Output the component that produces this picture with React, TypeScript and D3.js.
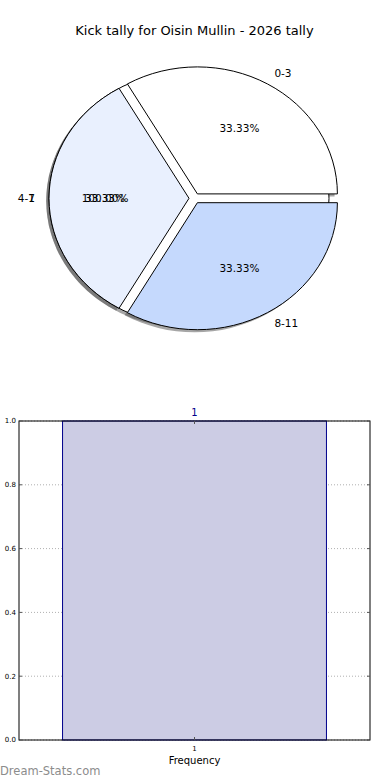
import React from 'react';
import * as d3 from 'd3';

// pie data (two pies drawn on top of each other in the original)
const sliceLabels = ['0-3', '4-7', '8-11'];
const sliceValues = [1, 1, 1];
const sliceColors = ['#ffffff', '#e9f0fe', '#c5d9fd'];
const underLabels = ['1'];
const underValues = [1];

// frequency bar data
const barCategories = [1];
const barValues = [1];
const yTicks = [0, 0.2, 0.4, 0.6, 0.8, 1.0];

const W = 390;
const H = 780;
const FONT = '"DejaVu Sans", Verdana, sans-serif';

// pie geometry (matplotlib axes were not equal, so the pie is an ellipse)
const CX = 194.6;
const CY = 198.3;
const RX = 140;
const RY = 127;
const EXPLODE = 0.04;

type Wedge = { label: string; value: number; a0: number; a1: number; color: string; pct: string; full: boolean };

function buildWedges(labels: string[], values: number[], colors: string[]): Wedge[] {
  // matplotlib: counter-clockwise from +x; d3 angle = pi/2 - theta
  const pie = d3.pie<number>().sort(null).startAngle(Math.PI / 2).endAngle(Math.PI / 2 - 2 * Math.PI);
  const total = d3.sum(values);
  return pie(values).map((p, i) => ({
    label: labels[i],
    value: values[i],
    a0: p.startAngle,
    a1: p.endAngle,
    color: colors[i % colors.length],
    pct: `${((values[i] / total) * 100).toFixed(2)}%`,
    full: values[i] === total,
  }));
}

const unitArc = d3.arc<any>().innerRadius(0).outerRadius(1);

function wedgePath(w: Wedge) {
  return w.full ? 'M1,0A1,1 0 1,1 -1,0A1,1 0 1,1 1,0Z' : (unitArc({ startAngle: w.a1, endAngle: w.a0 }) as string);
}

function offset(w: Wedge) {
  const mid = (w.a0 + w.a1) / 2; // d3 angle
  return [EXPLODE * Math.sin(mid) * RX, -EXPLODE * Math.cos(mid) * RY];
}

function Shadows({ wedges }: { wedges: Wedge[] }) {
  return (
    <g>
      {wedges.map((w, i) => {
        const [ox, oy] = offset(w);
        return (
          <path
            key={i}
            d={wedgePath(w)}
            transform={`translate(${CX + ox - 0.02 * RX},${CY + oy + 0.02 * RY}) scale(${RX},${RY})`}
            fill="#4d4d4d"
            fillOpacity={0.5}
          />
        );
      })}
    </g>
  );
}

function Wedges({ wedges }: { wedges: Wedge[] }) {
  return (
    <g>
      {wedges.map((w, i) => {
        const [ox, oy] = offset(w);
        return (
          <path
            key={i}
            d={wedgePath(w)}
            transform={`translate(${CX + ox},${CY + oy}) scale(${RX},${RY})`}
            fill={w.color}
            stroke="#000"
            strokeWidth={1}
            vectorEffect="non-scaling-stroke"
            strokeLinejoin="round"
          />
        );
      })}
    </g>
  );
}

function PieLabels({ wedges }: { wedges: Wedge[] }) {
  return (
    <g fontFamily={FONT} fontSize={10.5} fill="#000">
      {wedges.map((w, i) => {
        const mid = (w.a0 + w.a1) / 2;
        const sx = Math.sin(mid);
        const sy = -Math.cos(mid);
        const lx = CX + (EXPLODE + 1.1) * sx * RX;
        const ly = CY + (EXPLODE + 1.1) * sy * RY;
        const px = CX + (EXPLODE + 0.6) * sx * RX;
        const py = CY + (EXPLODE + 0.6) * sy * RY;
        return (
          <g key={i}>
            <text x={lx} y={ly} dy="0.35em" textAnchor={sx > 1e-9 ? 'start' : 'end'}>{w.label}</text>
            <text x={px} y={py} dy="0.35em" textAnchor="middle">{w.pct}</text>
          </g>
        );
      })}
    </g>
  );
}

export default function App() {
  const under = buildWedges(underLabels, underValues, ['#ffffff']);
  const slices = buildWedges(sliceLabels, sliceValues, sliceColors);

  // bar chart
  const left = 19, right = 370, top = 421, bottom = 740;
  const x = d3.scaleLinear().domain([0.468, 1.532]).range([left, right]);
  const y = d3.scaleLinear().domain([0, 1]).range([bottom, top]);
  const barW = 0.8;

  return (
    <svg width={W} height={H} style={{ position: 'absolute', left: 0, top: 0, background: '#fff' }}>
      <text x={194.5} y={30} dy="0.35em" textAnchor="middle" fontFamily={FONT} fontSize={13} fill="#000">
        Kick tally for Oisin Mullin - 2026 tally
      </text>

      {/* shadows sit below every wedge of both pies */}
      <Shadows wedges={under} />
      <Shadows wedges={slices} />
      <Wedges wedges={under} />
      <Wedges wedges={slices} />
      <PieLabels wedges={under} />
      <PieLabels wedges={slices} />

      {/* bar chart */}
      <g>
        {yTicks.map((t) => (
          <line key={t} x1={left} x2={right} y1={y(t)} y2={y(t)} stroke="#b0b0b0" strokeDasharray="1,2" />
        ))}
        {barCategories.map((c) => (
          <line key={c} x1={x(c)} x2={x(c)} y1={top} y2={bottom} stroke="#b0b0b0" strokeDasharray="1,2" />
        ))}
        {barCategories.map((c, i) => (
          <g key={c}>
            <rect
              x={x(c - barW / 2)}
              y={y(barValues[i])}
              width={x(c + barW / 2) - x(c - barW / 2)}
              height={y(0) - y(barValues[i])}
              fill="#cccce4"
              stroke="#00008b"
              strokeWidth={1}
            />
            <text x={x(c)} y={y(barValues[i]) - 5} textAnchor="middle" fontFamily={FONT} fontSize={10} fill="#00008b">
              {barValues[i]}
            </text>
          </g>
        ))}
        <rect x={left} y={top} width={right - left} height={bottom - top} fill="none" stroke="#000" strokeWidth={1} />
        {yTicks.map((t) => (
          <g key={t}>
            <line x1={left} x2={left + 3} y1={y(t)} y2={y(t)} stroke="#555" />
            <line x1={right - 3} x2={right} y1={y(t)} y2={y(t)} stroke="#555" />
            <text x={left - 3} y={y(t)} dy="0.35em" textAnchor="end" fontFamily={FONT} fontSize={7} fill="#000">
              {t.toFixed(1)}
            </text>
          </g>
        ))}
        {barCategories.map((c) => (
          <g key={c}>
            <line x1={x(c)} x2={x(c)} y1={bottom - 3} y2={bottom} stroke="#555" />
            <line x1={x(c)} x2={x(c)} y1={top} y2={top + 3} stroke="#555" />
            <text x={x(c)} y={bottom + 9} dy="0.35em" textAnchor="middle" fontFamily={FONT} fontSize={7} fill="#000">
              {c}
            </text>
          </g>
        ))}
        <text x={(left + right) / 2} y={760} dy="0.35em" textAnchor="middle" fontFamily={FONT} fontSize={10} fill="#000">
          Frequency
        </text>
      </g>

      <text x={0} y={771} dy="0.35em" fontFamily={FONT} fontSize={11.5} fill="#8c8c8c">
        Dream-Stats.com
      </text>
    </svg>
  );
}
